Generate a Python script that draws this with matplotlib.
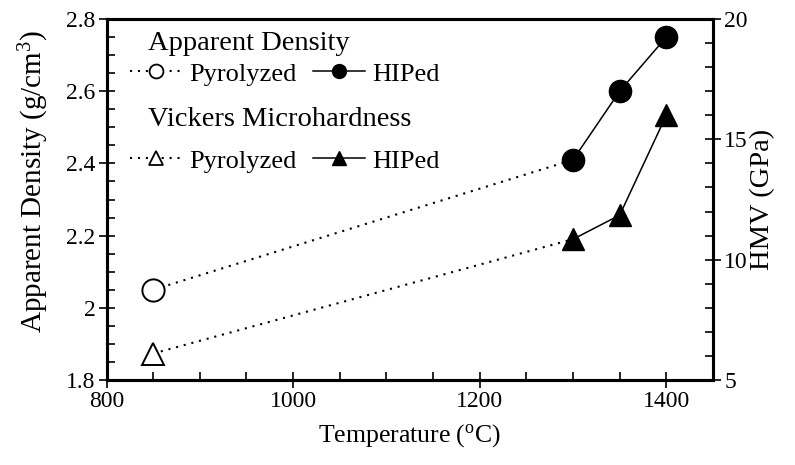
import matplotlib
matplotlib.use("Agg")
import matplotlib.pyplot as plt
from matplotlib.ticker import MultipleLocator
from matplotlib.lines import Line2D

plt.rcParams['font.family'] = ['Liberation Serif', 'DejaVu Serif']
plt.rcParams['mathtext.fontset'] = 'custom'
plt.rcParams['mathtext.rm'] = 'Liberation Serif'

# Data
temp_pyro = [850, 1300]
dens_pyro = [2.05, 2.41]
temp_hip = [1300, 1350, 1400]
dens_hip = [2.41, 2.60, 2.75]
hmv_pyro = [6.1, 10.85]
hmv_hip = [10.85, 11.85, 16.0]
xticks = [800, 1000, 1200, 1400]
yticks_left = [1.8, 2.0, 2.2, 2.4, 2.6, 2.8]
yticklabels_left = ['1.8', '2', '2.2', '2.4', '2.6', '2.8']
yticks_right = [5, 10, 15, 20]

fig = plt.figure(figsize=(7.95, 4.65), dpi=100)
ax = fig.add_axes([106.5 / 795, 85 / 465, 606.5 / 795, 361 / 465])
ax2 = ax.twinx()

ms = 16
lw = 1.1
dot = (0, (1, 2.8))
ax.plot(temp_pyro, dens_pyro, ls=dot, color='black', lw=1.5, zorder=1)
ax.plot(temp_pyro[:1], dens_pyro[:1], ls='none', marker='o', ms=ms, mfc='white', mec='black', mew=1.4)
ax.plot(temp_hip, dens_hip, ls='-', marker='o', ms=ms, color='black', lw=lw)
ax2.plot(temp_pyro, hmv_pyro, ls=dot, color='black', lw=1.5, zorder=1)
ax2.plot(temp_pyro[:1], hmv_pyro[:1], ls='none', marker='^', ms=ms, mfc='white', mec='black', mew=1.4)
ax2.plot(temp_hip, hmv_hip, ls='-', marker='^', ms=ms, color='black', lw=lw)

ax.set_xlim(800, 1450)
ax.set_ylim(1.8, 2.8)
ax2.set_ylim(5, 20)
ax.set_xticks(xticks)
ax.set_yticks(yticks_left)
ax.set_yticklabels(yticklabels_left)
ax2.set_yticks(yticks_right)
ax.xaxis.set_minor_locator(MultipleLocator(50))
ax.yaxis.set_minor_locator(MultipleLocator(0.05))
ax2.yaxis.set_minor_locator(MultipleLocator(1))

for a in (ax, ax2):
    for s in a.spines.values():
        s.set_linewidth(2.2)
    a.tick_params(which='major', direction='inout', length=12, width=1.2, labelsize=17, pad=2)
    a.tick_params(which='minor', direction='in', length=6, width=1.2)
ax.tick_params(axis='y', which='both', right=False)
ax.tick_params(axis='x', which='both', top=False)

ax.set_xlabel('Temperature ($\\mathregular{^{o}}$C)', fontsize=18.5, labelpad=7)
ax.set_ylabel('Apparent Density (g/cm$\\mathregular{^{3}}$)', fontsize=21, labelpad=11)
ax.yaxis.label.set_y(0.55)
ax2.set_ylabel('HMV (GPa)', fontsize=20.5, labelpad=2)

def px_x(p):
    return (p - 106.5) / 606.5

def px_y(p):
    return (380 - p) / 361

ax.text(px_x(148), px_y(50), 'Apparent Density', transform=ax.transAxes, fontsize=20.5, va='baseline', ha='left')
ax.text(px_x(148), px_y(126), 'Vickers Microhardness', transform=ax.transAxes, fontsize=20.5, va='baseline', ha='left')

lms = 10
h1 = [Line2D([], [], ls=dot, color='black', lw=1.5, marker='o', ms=lms, mfc='white', mec='black', mew=1.3),
      Line2D([], [], ls='-', color='black', lw=lw, marker='o', ms=lms, mfc='black', mec='black')]
h2 = [Line2D([], [], ls=dot, color='black', lw=1.5, marker='^', ms=lms, mfc='white', mec='black', mew=1.3),
      Line2D([], [], ls='-', color='black', lw=lw, marker='^', ms=lms, mfc='black', mec='black')]
kw = dict(ncol=2, frameon=False, fontsize=19, loc='center left', borderpad=0, borderaxespad=0,
          handlelength=2.0, handletextpad=0.25, columnspacing=0.6)
leg1 = ax.legend(h1, ['Pyrolyzed', 'HIPed'], bbox_to_anchor=(px_x(130), px_y(74)), **kw)
ax.add_artist(leg1)
leg2 = ax.legend(h2, ['Pyrolyzed', 'HIPed'], bbox_to_anchor=(px_x(130), px_y(161)), **kw)

fig.savefig('out.png', dpi=100)
